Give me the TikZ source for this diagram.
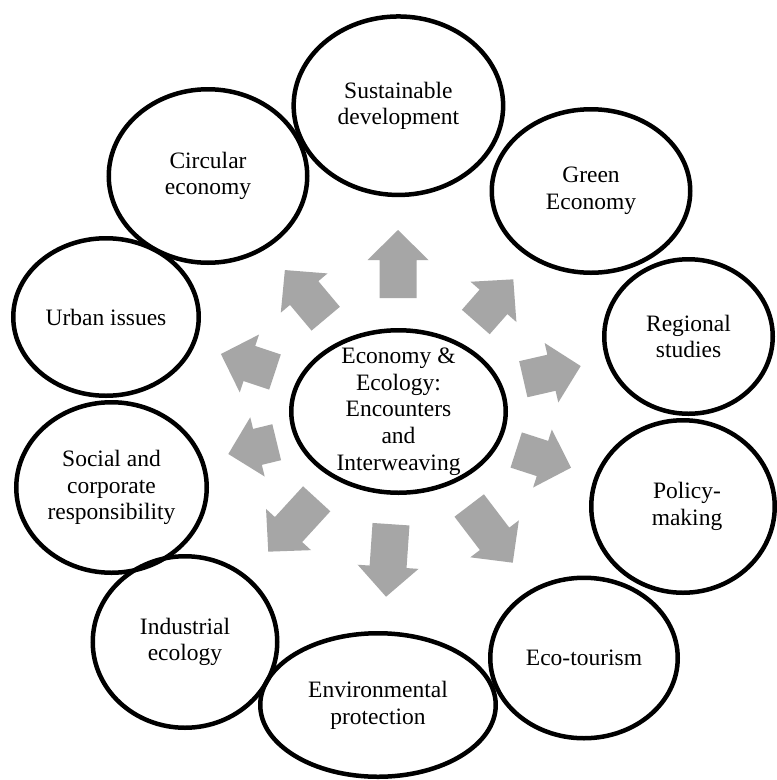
\documentclass[tikz,border=0pt]{standalone}
\usepackage{fontspec}
\setmainfont{Liberation Serif}
\usetikzlibrary{shapes.geometric}
\definecolor{arrowgray}{RGB}{166,166,166}
\tikzset{
  bubble/.style={ellipse, draw=black, line width=4.5pt, inner sep=0pt},
  bubbletext/.style={align=center, inner sep=0pt, font=\fontsize{23.5}{26.7}\selectfont},
  blockarrow/.pic={\fill[arrowgray] (0,-18.5) -- ({#1-30},-18.5) -- ({#1-30},-30.5) -- (#1,0) -- ({#1-30},30.5) -- ({#1-30},18.5) -- (0,18.5) -- cycle;}
}
\begin{document}
\begin{tikzpicture}[x=1pt,y=-1pt]
\useasboundingbox[fill=white] (0,0) rectangle (777,780);
% ellipses
\node[bubble, minimum width=209.5pt, minimum height=178.5pt] (sd) at (398.4,105.7) {};
\node[bubble, minimum width=198.5pt, minimum height=173.5pt] (ce) at (208,176) {};
\node[bubble, minimum width=198.5pt, minimum height=163.5pt] (ge) at (591,191) {};
\node[bubble, minimum width=185.5pt, minimum height=157.5pt] (ui) at (106,317) {};
\node[bubble, minimum width=168.5pt, minimum height=154.5pt] (rs) at (688.5,336.5) {};
\node[bubble, minimum width=214.5pt, minimum height=162.5pt] (ctr) at (398.5,411.5) {};
\node[bubble, minimum width=190.5pt, minimum height=170.5pt] (sc) at (111.5,487.5) {};
\node[bubble, minimum width=183.5pt, minimum height=172.5pt] (pm) at (683,506.5) {};
\node[bubble, minimum width=184.5pt, minimum height=171.5pt] (ie) at (185,642) {};
\node[bubble, minimum width=235.5pt, minimum height=143.5pt] (ep) at (378,705) {};
\node[bubble, minimum width=187.5pt, minimum height=160.5pt] (et) at (584,658) {};
% texts
\node[bubbletext] (sdt) at (sd.center) {Sustainable\\development};
\node[bubbletext] (cet) at (ce.center) {Circular\\economy};
\node[bubbletext] (get) at (ge.center) {Green\\Economy};
\node[bubbletext] (uit) at (ui.center) {Urban issues};
\node[bubbletext] (rst) at (rs.center) {Regional\\studies};
\node[bubbletext] (ctrt) at (ctr.center) {Economy \&\\Ecology:\\Encounters\\and\\Interweaving};
\node[bubbletext] (sct) at (sc.center) {Social and\\corporate\\responsibility};
\node[bubbletext] (pmt) at ([xshift=4pt]pm.center) {Policy-\\making};
\node[bubbletext] (iet) at (ie.center) {Industrial\\ecology};
\node[bubbletext] (ept) at (ep.center) {Environmental\\protection};
\node[bubbletext] (ett) at (et.center) {Eco-tourism};
% arrows
\pic[rotate=90] (a1) at (398,298) {blockarrow=68};
\pic[rotate=130] (a2) at (325.7,318.7) {blockarrow=63.5};
\pic[rotate=48.7] (a3) at (475.8,322) {blockarrow=56.8};
\pic[rotate=12.9] (a4) at (523.3,379.2) {blockarrow=58.9};
\pic[rotate=-17.9] (a5) at (516.2,450) {blockarrow=57.6};
\pic[rotate=-52.7] (a6) at (469.2,505.5) {blockarrow=71.9};
\pic[rotate=-93.9] (a7) at (391,524.2) {blockarrow=72.7};
\pic[rotate=-132.5] (a8) at (316.7,498.8) {blockarrow=71.7};
\pic[rotate=193.7] (a9) at (276.7,442.2) {blockarrow=49.8};
\pic[rotate=161.6] (a10) at (275,372) {blockarrow=57};
\end{tikzpicture}
\end{document}
